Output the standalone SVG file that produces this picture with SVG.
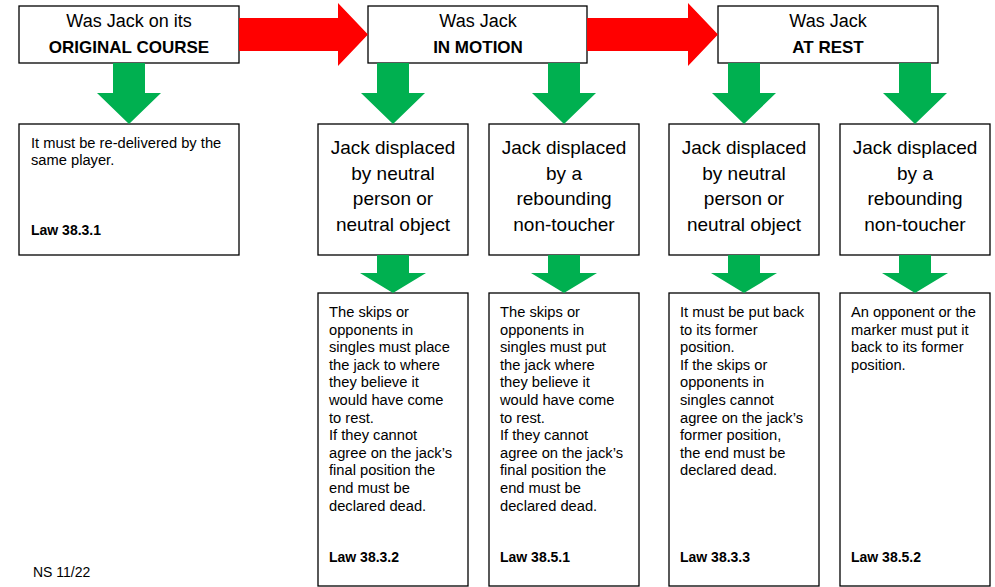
<svg xmlns="http://www.w3.org/2000/svg" width="995" height="587" viewBox="0 0 995 587">
<style>
.box{fill:#fff;stroke:#000;stroke-width:1.3}
.red{fill:#ff0000}
.green{fill:#00b050}
.hd{font-family:"Liberation Sans",Arial,sans-serif;font-size:18px;fill:#000;text-anchor:middle}
.hdb{font-family:"Liberation Sans",Arial,sans-serif;font-size:17px;font-weight:bold;fill:#000;text-anchor:middle}
.mn{font-family:"Liberation Sans",Arial,sans-serif;font-size:19px;fill:#000;text-anchor:middle}
.dt{font-family:"Liberation Sans",Arial,sans-serif;font-size:14.7px;fill:#000}
.law{font-family:"Liberation Sans",Arial,sans-serif;font-size:14px;font-weight:bold;fill:#000}
</style>
<rect width="995" height="587" fill="#fff"/>

<g id="q-original">
<rect class="box" x="19" y="6" width="220" height="57"/>
<text class="hd" x="129" y="27">Was Jack on its</text>
<text class="hdb" x="129" y="53">ORIGINAL COURSE</text>
</g>
<g id="q-motion">
<rect class="box" x="368" y="6" width="219" height="57"/>
<text class="hd" x="478" y="27">Was Jack</text>
<text class="hdb" x="478" y="53">IN MOTION</text>
</g>
<g id="q-rest">
<rect class="box" x="718" y="6" width="220" height="57"/>
<text class="hd" x="828" y="27">Was Jack</text>
<text class="hdb" x="828" y="53">AT REST</text>
</g>

<g id="r-original">
<rect class="box" x="19" y="124" width="220" height="131"/>
<text class="dt" x="31" y="148"><tspan x="31">It must be re-delivered by the</tspan><tspan x="31" dy="17.3">same player.</tspan></text>
<text class="law" x="31" y="235">Law 38.3.1</text>
</g>

<g id="n-motion-neutral">
<rect class="box" x="318" y="124" width="150" height="131"/>
<text class="mn" x="393" y="154"><tspan x="393">Jack displaced</tspan><tspan x="393" dy="25.5">by neutral</tspan><tspan x="393" dy="25.5">person or</tspan><tspan x="393" dy="25.5">neutral object</tspan></text>
</g>
<g id="n-motion-rebound">
<rect class="box" x="489" y="124" width="150" height="131"/>
<text class="mn" x="564" y="154"><tspan x="564">Jack displaced</tspan><tspan x="564" dy="25.5">by a</tspan><tspan x="564" dy="25.5">rebounding</tspan><tspan x="564" dy="25.5">non-toucher</tspan></text>
</g>
<g id="n-rest-neutral">
<rect class="box" x="669" y="124" width="150" height="131"/>
<text class="mn" x="744" y="154"><tspan x="744">Jack displaced</tspan><tspan x="744" dy="25.5">by neutral</tspan><tspan x="744" dy="25.5">person or</tspan><tspan x="744" dy="25.5">neutral object</tspan></text>
</g>
<g id="n-rest-rebound">
<rect class="box" x="840" y="124" width="150" height="131"/>
<text class="mn" x="915" y="154"><tspan x="915">Jack displaced</tspan><tspan x="915" dy="25.5">by a</tspan><tspan x="915" dy="25.5">rebounding</tspan><tspan x="915" dy="25.5">non-toucher</tspan></text>
</g>

<g id="d-38-3-2">
<rect class="box" x="318" y="293" width="150" height="293"/>
<text class="dt" x="329" y="317"><tspan x="329">The skips or</tspan><tspan x="329" dy="17.6">opponents in</tspan><tspan x="329" dy="17.6">singles must place</tspan><tspan x="329" dy="17.6">the jack to where</tspan><tspan x="329" dy="17.6">they believe it</tspan><tspan x="329" dy="17.6">would have come</tspan><tspan x="329" dy="17.6">to rest.</tspan><tspan x="329" dy="17.6">If they cannot</tspan><tspan x="329" dy="17.6">agree on the jack’s</tspan><tspan x="329" dy="17.6">final position the</tspan><tspan x="329" dy="17.6">end must be</tspan><tspan x="329" dy="17.6">declared dead.</tspan></text>
<text class="law" x="329" y="562">Law 38.3.2</text>
</g>
<g id="d-38-5-1">
<rect class="box" x="489" y="293" width="150" height="293"/>
<text class="dt" x="500" y="317"><tspan x="500">The skips or</tspan><tspan x="500" dy="17.6">opponents in</tspan><tspan x="500" dy="17.6">singles must put</tspan><tspan x="500" dy="17.6">the jack where</tspan><tspan x="500" dy="17.6">they believe it</tspan><tspan x="500" dy="17.6">would have come</tspan><tspan x="500" dy="17.6">to rest.</tspan><tspan x="500" dy="17.6">If they cannot</tspan><tspan x="500" dy="17.6">agree on the jack’s</tspan><tspan x="500" dy="17.6">final position the</tspan><tspan x="500" dy="17.6">end must be</tspan><tspan x="500" dy="17.6">declared dead.</tspan></text>
<text class="law" x="500" y="562">Law 38.5.1</text>
</g>
<g id="d-38-3-3">
<rect class="box" x="669" y="293" width="150" height="293"/>
<text class="dt" x="680" y="317"><tspan x="680">It must be put back</tspan><tspan x="680" dy="17.6">to its former</tspan><tspan x="680" dy="17.6">position.</tspan><tspan x="680" dy="17.6">If the skips or</tspan><tspan x="680" dy="17.6">opponents in</tspan><tspan x="680" dy="17.6">singles cannot</tspan><tspan x="680" dy="17.6">agree on the jack’s</tspan><tspan x="680" dy="17.6">former position,</tspan><tspan x="680" dy="17.6">the end must be</tspan><tspan x="680" dy="17.6">declared dead.</tspan></text>
<text class="law" x="680" y="562">Law 38.3.3</text>
</g>
<g id="d-38-5-2">
<rect class="box" x="840" y="293" width="150" height="293"/>
<text class="dt" x="851" y="317"><tspan x="851">An opponent or the</tspan><tspan x="851" dy="17.6">marker must put it</tspan><tspan x="851" dy="17.6">back to its former</tspan><tspan x="851" dy="17.6">position.</tspan></text>
<text class="law" x="851" y="562">Law 38.5.2</text>
</g>

<g id="connectors">
<path class="red" d="M239,18 H338 V3 L368,34.5 L338,66 V51 H239 Z"/>
<path class="red" d="M587,18 H688 V3 L718,34.5 L688,66 V51 H587 Z"/>
<path class="green" d="M113,63 H145 V93 H161 L129,124 L97,93 H113 Z"/>
<path class="green" d="M377,63 H409 V93 H425 L393,124 L361,93 H377 Z"/>
<path class="green" d="M548,63 H580 V93 H596 L564,124 L532,93 H548 Z"/>
<path class="green" d="M728,63 H760 V93 H776 L744,124 L712,93 H728 Z"/>
<path class="green" d="M899,63 H931 V93 H947 L915,124 L883,93 H899 Z"/>
<path class="green" d="M377,255 H409 V273 H426 L393,293 L360,273 H377 Z"/>
<path class="green" d="M548,255 H580 V273 H597 L564,293 L531,273 H548 Z"/>
<path class="green" d="M728,255 H760 V273 H777 L744,293 L711,273 H728 Z"/>
<path class="green" d="M899,255 H931 V273 H948 L915,293 L882,273 H899 Z"/>
</g>

<text class="dt" x="33" y="577" style="font-size:14px">NS 11/22</text>
</svg>
